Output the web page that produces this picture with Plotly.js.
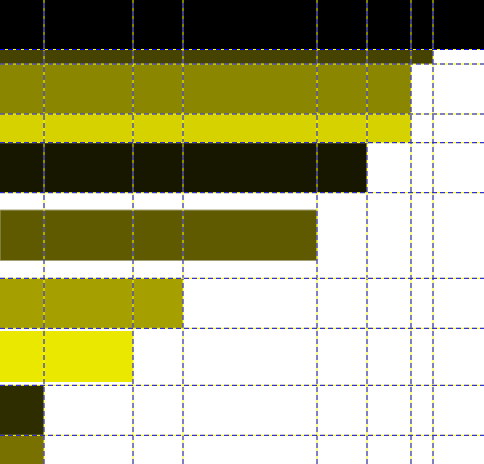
<!DOCTYPE html>
<html>
<head>
<meta charset="utf-8">
<script src="https://cdn.plot.ly/plotly-3.0.1.min.js"></script>
<style>html,body{margin:0;padding:0;background:#fff;}#chart{width:484px;height:464px;}</style>
</head>
<body>
<div id="chart"></div>
<script>
// Bar data (top to bottom)
const barCenters = [2.475, 5.675, 8.9, 12.835, 16.77, 23.525, 30.33, 35.65, 41.03, 46.03];
const barWidths  = [4.95, 1.45, 5.0, 2.87, 5.0, 5.05, 5.0, 5.1, 5.0, 5.0];
const barValues  = [50, 43.3, 41.1, 41.1, 36.7, 31.7, 18.3, 13.3, 4.4, 4.4];
const barColors  = ['#000000', '#464200', '#8a8600', '#d5d200', '#171700', '#5f5a00', '#a5a000', '#ebe800', '#2e2d00', '#787100'];
const barLineColors = ['rgba(0,0,0,0)', 'rgba(0,0,0,0)', 'rgba(0,0,0,0)', 'rgba(0,0,0,0)', 'rgba(0,0,0,0)', '#a3a178', 'rgba(0,0,0,0)', 'rgba(0,0,0,0)', 'rgba(0,0,0,0)', 'rgba(0,0,0,0)'];
const barLineWidths = [0, 0, 0, 0, 0, 1, 0, 0, 0, 0];

// Grid line positions (tick values)
const gridX = [4.4, 13.3, 18.3, 31.7, 36.7, 41.1, 43.3];
const gridY = [4.95, 6.4, 11.4, 14.27, 19.27, 27.83, 32.83, 38.53, 43.53];

const trace = {
  type: 'bar',
  orientation: 'h',
  y: barCenters,
  x: barValues,
  width: barWidths,
  base: 0,
  marker: { color: barColors, line: { color: barLineColors, width: barLineWidths } },
  hoverinfo: 'none'
};

const shapes = [];
gridX.forEach(v => {
  shapes.push({type: 'line', xref: 'x', yref: 'paper', x0: v, x1: v, y0: 0, y1: 1, layer: 'above', line: {color: 'yellow', width: 1}});
  shapes.push({type: 'line', xref: 'x', yref: 'paper', x0: v, x1: v, y0: 0, y1: 1, layer: 'above', line: {color: 'blue', width: 1, dash: '5px,3px'}});
});
gridY.forEach(v => {
  shapes.push({type: 'line', xref: 'paper', yref: 'y', x0: 0, x1: 1, y0: v, y1: v, layer: 'above', line: {color: 'yellow', width: 1}});
  shapes.push({type: 'line', xref: 'paper', yref: 'y', x0: 0, x1: 1, y0: v, y1: v, layer: 'above', line: {color: 'blue', width: 1, dash: '5px,3px'}});
});

const layout = {
  width: 484, height: 464,
  margin: {l: 0, r: 0, t: 0, b: 0, pad: 0},
  paper_bgcolor: '#ffffff', plot_bgcolor: '#ffffff',
  showlegend: false,
  xaxis: {range: [0, 48.4], showgrid: false, zeroline: false, showticklabels: false, ticks: '', showline: false, fixedrange: true},
  yaxis: {range: [46.4, 0], showgrid: false, zeroline: false, showticklabels: false, ticks: '', showline: false, fixedrange: true},
  shapes: shapes
};

Plotly.newPlot('chart', [trace], layout, {displayModeBar: false, staticPlot: true});
</script>
</body>
</html>
